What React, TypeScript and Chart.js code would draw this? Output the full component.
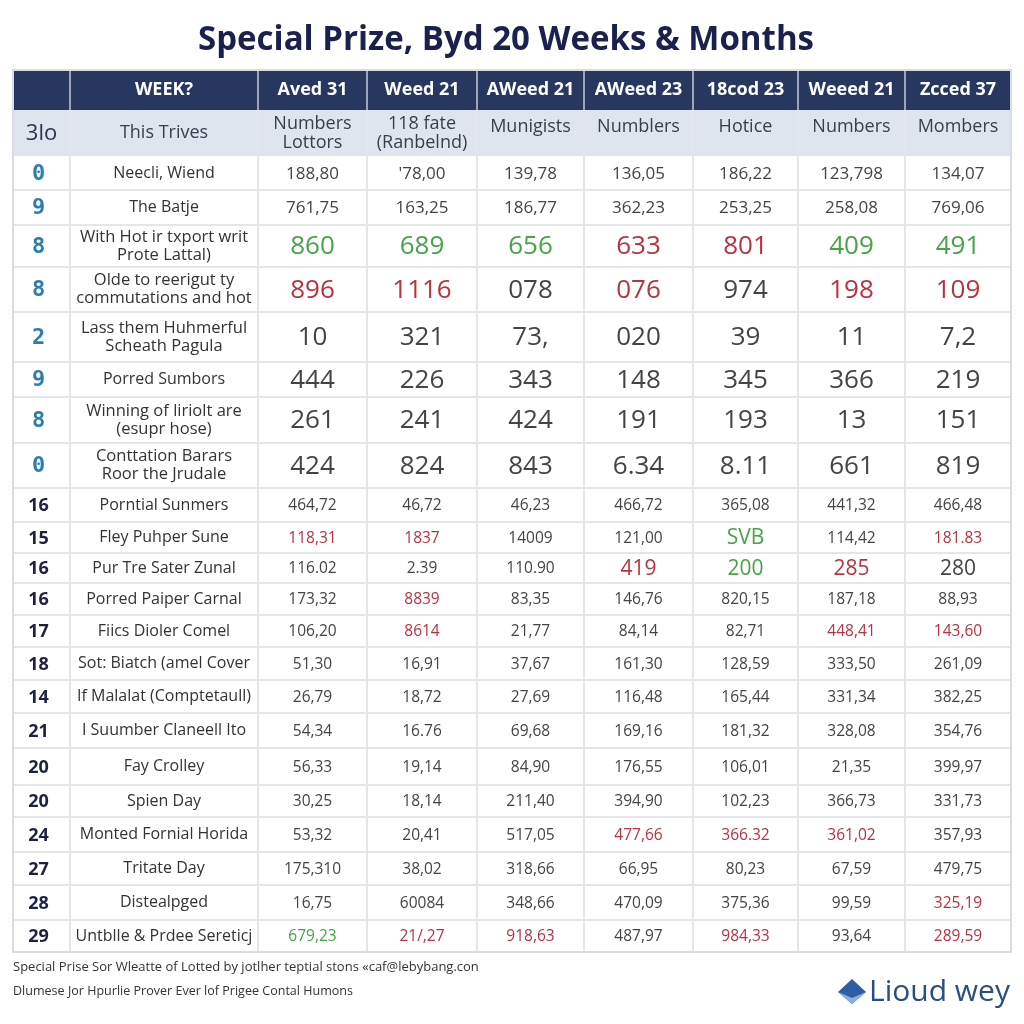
import React, { useEffect, useRef } from "react";
import { Chart, registerables } from "chart.js";

Chart.register(...registerables);

// ---------------- data ----------------
const TITLE = "Special Prize, Byd 20 Weeks & Months";

const HEADER_TOP = ["", "WEEK?", "Aved 31", "Weed 21", "AWeed 21", "AWeed 23", "18cod 23", "Weeed 21", "Zcced 37"];
const HEADER_SUB = ["3lo", "This Trives", "Numbers\nLottors", "118 fate\n(Ranbelnd)", "Munigists", "Numblers", "Hotice", "Numbers", "Mombers"];

const ROW_IDS = ["0", "9", "8", "8", "2", "9", "8", "0", "16", "15", "16", "16", "17", "18", "14", "21", "20", "20", "24", "27", "28", "29"];

const ROW_LABELS = [
  "Neecli, Wiend",
  "The Batje",
  "With Hot ir txport writ\nProte Lattal)",
  "Olde to reerigut ty\ncommutations and hot",
  "Lass them Huhmerful\nScheath Pagula",
  "Porred Sumbors",
  "Winning of liriolt are\n(esupr hose)",
  "Conttation Barars\nRoor the Jrudale",
  "Porntial Sunmers",
  "Fley Puhper Sune",
  "Pur Tre Sater Zunal",
  "Porred Paiper Carnal",
  "Fiics Dioler Comel",
  "Sot: Biatch (amel Cover",
  "If Malalat (Comptetaull)",
  "I Suumber Claneell Ito",
  "Fay Crolley",
  "Spien Day",
  "Monted Fornial Horida",
  "Tritate Day",
  "Distealpged",
  "Untblle & Prdee Sereticj",
];

const COL_AVED_31 = ["188,80", "761,75", "860", "896", "10", "444", "261", "424", "464,72", "118,31", "116.02", "173,32", "106,20", "51,30", "26,79", "54,34", "56,33", "30,25", "53,32", "175,310", "16,75", "679,23"];
const COL_WEED_21 = ["'78,00", "163,25", "689", "1116", "321", "226", "241", "824", "46,72", "1837", "2.39", "8839", "8614", "16,91", "18,72", "16.76", "19,14", "18,14", "20,41", "38,02", "60084", "21/,27"];
const COL_AWEED_21 = ["139,78", "186,77", "656", "078", "73,", "343", "424", "843", "46,23", "14009", "110.90", "83,35", "21,77", "37,67", "27,69", "69,68", "84,90", "211,40", "517,05", "318,66", "348,66", "918,63"];
const COL_AWEED_23 = ["136,05", "362,23", "633", "076", "020", "148", "191", "6.34", "466,72", "121,00", "419", "146,76", "84,14", "161,30", "116,48", "169,16", "176,55", "394,90", "477,66", "66,95", "470,09", "487,97"];
const COL_18COD_23 = ["186,22", "253,25", "801", "974", "39", "345", "193", "8.11", "365,08", "SVB", "200", "820,15", "82,71", "128,59", "165,44", "181,32", "106,01", "102,23", "366.32", "80,23", "375,36", "984,33"];
const COL_WEEED_21 = ["123,798", "258,08", "409", "198", "11", "366", "13", "661", "441,32", "114,42", "285", "187,18", "448,41", "333,50", "331,34", "328,08", "21,35", "366,73", "361,02", "67,59", "99,59", "93,64"];
const COL_ZCCED_37 = ["134,07", "769,06", "491", "109", "7,2", "219", "151", "819", "466,48", "181.83", "280", "88,93", "143,60", "261,09", "382,25", "354,76", "399,97", "331,73", "357,93", "479,75", "325,19", "289,59"];

const VALUE_COLUMNS = [COL_AVED_31, COL_WEED_21, COL_AWEED_21, COL_AWEED_23, COL_18COD_23, COL_WEEED_21, COL_ZCCED_37];

// highlighted cells: [row, valueColumn]
const UP_CELLS = [[2, 0], [2, 1], [2, 2], [2, 5], [2, 6], [9, 4], [10, 4], [21, 0]];
const DOWN_CELLS = [
  [2, 3], [2, 4],
  [3, 0], [3, 1], [3, 3], [3, 5], [3, 6],
  [9, 0], [9, 1], [9, 6],
  [10, 3], [10, 5],
  [11, 1],
  [12, 1], [12, 5], [12, 6],
  [18, 3], [18, 4], [18, 5],
  [20, 6],
  [21, 1], [21, 2], [21, 4], [21, 6],
];
const LARGE_CELLS = [[9, 4], [10, 3], [10, 4], [10, 5], [10, 6]];

const FOOTER_LINES = [
  "Special Prise Sor Wleatte of Lotted by jotlher teptial stons «caf@lebybang.con",
  "Dlumese Jor Hpurlie Prover Ever lof Prigee Contal Humons",
];
const BRAND = "Lioud wey";

// ---------------- layout (table grid units) ----------------
const COL_WIDTHS = [57, 188, 109, 110, 107, 109, 105, 107, 106];
const HEADER_HEIGHTS = [40, 46];
const ROW_HEIGHTS = [34, 35, 42, 45, 50, 35, 46, 45, 34, 31, 30, 32, 32, 33, 33, 35, 37, 32, 35, 33, 35, 32];

const TOTAL_W = COL_WIDTHS.reduce((a, b) => a + b, 0);
const TOTAL_H = HEADER_HEIGHTS.concat(ROW_HEIGHTS).reduce((a, b) => a + b, 0);

const NAVY = "#27375f";
const SUB_BG = "#dfe5ee";
const GRID = "#e3e6ea";
const GREEN = "#46a546";
const RED = "#b8323f";
const TEXT = "#444444";

function cum(arr: number[]) {
  const out = [0];
  arr.forEach((v) => out.push(out[out.length - 1] + v));
  return out;
}

function has(list: number[][], r: number, c: number) {
  return list.some(([a, b]) => a === r && b === c);
}

function drawLines(ctx: CanvasRenderingContext2D, text: string, cx: number, cy: number, size: number, maxW: number) {
  const lines = text.split("\n");
  const lh = size * 1.1;
  const start = cy - ((lines.length - 1) * lh) / 2;
  lines.forEach((ln, i) => ctx.fillText(ln, cx, start + i * lh, maxW));
}

const tablePlugin = {
  id: "tablePlugin",
  afterDraw(chart: any) {
    const { ctx, scales } = chart;
    const xs = scales.x;
    const ys = scales.y;
    const xEdges = cum(COL_WIDTHS).map((v) => xs.getPixelForValue(v));
    const yEdges = cum(HEADER_HEIGHTS.concat(ROW_HEIGHTS)).map((v) => ys.getPixelForValue(v));
    const left = xEdges[0];
    const right = xEdges[xEdges.length - 1];
    const top = yEdges[0];
    const bottom = yEdges[yEdges.length - 1];
    ctx.save();

    // title
    ctx.fillStyle = "#1b214f";
    ctx.font = "bold 34px 'Open Sans'";
    ctx.textAlign = "center";
    ctx.textBaseline = "middle";
    ctx.fillText(TITLE, (left + right) / 2 - 6, 40, 616);

    // backgrounds
    ctx.fillStyle = "#ffffff";
    ctx.fillRect(left, top, right - left, bottom - top);
    ctx.fillStyle = NAVY;
    ctx.fillRect(left, yEdges[0], right - left, yEdges[1] - yEdges[0]);
    ctx.fillStyle = SUB_BG;
    ctx.fillRect(left, yEdges[1], right - left, yEdges[2] - yEdges[1]);

    // grid
    ctx.lineWidth = 2;
    ctx.strokeStyle = GRID;
    for (let i = 3; i < yEdges.length - 1; i++) {
      ctx.beginPath();
      ctx.moveTo(left, yEdges[i]);
      ctx.lineTo(right, yEdges[i]);
      ctx.stroke();
    }
    for (let j = 1; j < xEdges.length - 1; j++) {
      ctx.strokeStyle = GRID;
      ctx.beginPath();
      ctx.moveTo(xEdges[j], yEdges[1]);
      ctx.lineTo(xEdges[j], bottom);
      ctx.stroke();
      ctx.strokeStyle = "rgba(255,255,255,0.55)";
      ctx.beginPath();
      ctx.moveTo(xEdges[j], yEdges[0]);
      ctx.lineTo(xEdges[j], yEdges[1]);
      ctx.stroke();
    }
    ctx.strokeStyle = "#d9dde3";
    ctx.strokeRect(left, top, right - left, bottom - top);

    const cxOf = (j: number) => (xEdges[j] + xEdges[j + 1]) / 2;
    const wOf = (j: number) => xEdges[j + 1] - xEdges[j] - 8;

    // header row 1
    ctx.fillStyle = "#ffffff";
    ctx.font = "bold 18px 'Open Sans'";
    const h1 = (yEdges[0] + yEdges[1]) / 2;
    HEADER_TOP.forEach((t, j) => {
      if (t) ctx.fillText(t, cxOf(j), h1, wOf(j));
    });

    // header row 2
    const h2 = (yEdges[1] + yEdges[2]) / 2;
    HEADER_SUB.forEach((t, j) => {
      if (j === 0) {
        ctx.fillStyle = "#2b3350";
        ctx.font = "22px 'Open Sans'";
        ctx.fillText(t, cxOf(j), h2 + 1, wOf(j) + 4);
        return;
      }
      ctx.fillStyle = "#373e4c";
      ctx.font = "18px 'Open Sans'";
      const single = t.indexOf("\n") < 0;
      drawLines(ctx, t, cxOf(j), single && j > 1 ? h2 - 6 : h2, 17.5, wOf(j));
    });

    // data rows
    ROW_IDS.forEach((id, r) => {
      const y0 = yEdges[r + 2];
      const y1 = yEdges[r + 3];
      const cy = (y0 + y1) / 2;
      const tall = r >= 2 && r <= 7;
      const early = r <= 7;

      // id
      if (early) {
        ctx.fillStyle = "#2d7db4";
        ctx.font = "bold 22px 'DejaVu Sans Mono'";
      } else {
        ctx.fillStyle = "#1c2242";
        ctx.font = "bold 18px 'Open Sans'";
      }
      ctx.fillText(id, cxOf(0) - 3, cy + 1, wOf(0));

      // label
      ctx.fillStyle = "#333333";
      const label = ROW_LABELS[r];
      const lsz = label.indexOf("\n") >= 0 ? 16.5 : 16;
      ctx.font = `${lsz}px 'Open Sans'`;
      drawLines(ctx, label, cxOf(1), cy, lsz, wOf(1));

      // values
      VALUE_COLUMNS.forEach((col, c) => {
        const v = col[r];
        let size = r <= 1 ? 17 : tall ? 26 : 15.5;
        if (has(LARGE_CELLS, r, c)) size = 21;
        ctx.font = `${size}px 'Open Sans'`;
        ctx.fillStyle = has(UP_CELLS, r, c) ? GREEN : has(DOWN_CELLS, r, c) ? RED : TEXT;
        ctx.fillText(v, cxOf(c + 2), cy + 1, wOf(c + 2));
      });
    });

    // footer
    ctx.textAlign = "left";
    ctx.fillStyle = "#333333";
    ctx.font = "13px 'Open Sans'";
    ctx.fillText(FOOTER_LINES[0], 13, 967, 484);
    ctx.fillText(FOOTER_LINES[1], 13, 991, 340);

    // brand
    ctx.fillStyle = "#2f5ea8";
    ctx.beginPath();
    ctx.moveTo(852, 979);
    ctx.lineTo(866, 992);
    ctx.lineTo(852, 1004);
    ctx.lineTo(838, 992);
    ctx.closePath();
    ctx.fill();
    ctx.fillStyle = "#8fb0de";
    ctx.beginPath();
    ctx.moveTo(838, 992);
    ctx.lineTo(852, 1004);
    ctx.lineTo(866, 992);
    ctx.lineTo(852, 998);
    ctx.closePath();
    ctx.fill();
    ctx.fillStyle = "#2a4d84";
    ctx.font = "30px 'Open Sans'";
    ctx.fillText(BRAND, 869, 992, 146);

    ctx.restore();
  },
};

export default function App() {
  const ref = useRef<HTMLCanvasElement | null>(null);
  useEffect(() => {
    if (!ref.current) return;
    const chart = new Chart(ref.current, {
      type: "scatter",
      data: { datasets: [] },
      options: {
        responsive: false,
        animation: false,
        layout: { padding: { left: 13, right: 13, top: 70, bottom: 72 } },
        scales: {
          x: { type: "linear", min: 0, max: TOTAL_W, display: false },
          y: { type: "linear", min: 0, max: TOTAL_H, reverse: true, display: false },
        },
        plugins: {
          legend: { display: false },
          tooltip: { enabled: false },
          title: { display: false },
        },
      },
      plugins: [tablePlugin],
    } as any);
    return () => chart.destroy();
  }, []);
  return (
    <div style={{ position: "absolute", left: 0, top: 0, width: 1024, height: 1024, background: "#ffffff" }}>
      <canvas ref={ref} width={1024} height={1024} style={{ display: "block" }} />
    </div>
  );
}
